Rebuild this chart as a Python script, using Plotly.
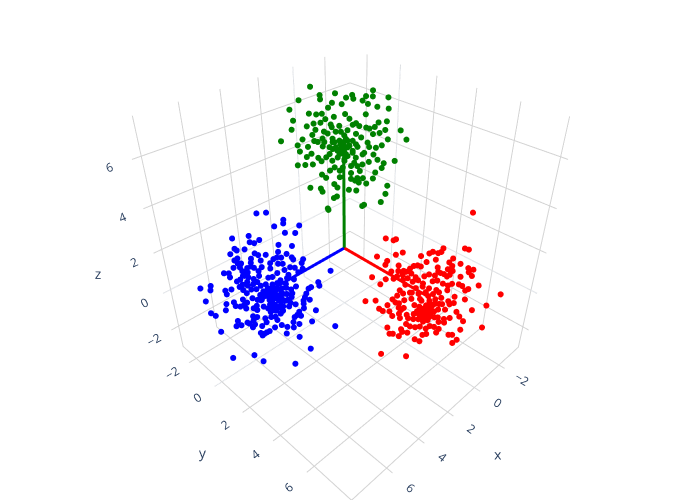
import plotly.graph_objects as go

y_blue=[-.06,.22,.70,.69,.42,1.15,.72,1.02,-.36,-.86,-.06,-.35,-.22,.90,.50,-.83,-.77,-.53,.72,-.24,-.14,-.98,.47,.09,-.08,-.37,.42,.55,.87,.91,.31,1.21,1.16,-.78,-.88,-.69,-.79,-.74,-.94,-.39,-.40,-.52,-.31,-.07,.20,.19,.44,.58,.62,.80,.94,1.18,2.03,1.04,-1.26,-1.11,-1.09,-.68,-.52,-.68,-.78,-.89,-.52,-.18,-.18,.10,.23,.39,.73,.68,.47,.89,1.64,1.67,1.41,1.33,-1.74,-2.08,-1.77,-1.30,-1.10,-1.27,-.83,-.73,-.57,-.39,-.16,.05,.21,.34,.49,.63,.78,.94,-.63,-.47,-.21,-.05,.10,.26,.39,.63,.81,1.25,1.20,1.15,1.35,-.47,-.78,-.66,-.31,-.18,.07,.21,.36,.66,.73,-1.98,-1.33,-1.08,-1.04,-.89,-.71,-.36,-.14,.07,.23,.42,.89,1.15,1.15,-1.38,.13,.26,.47,.07,1.53,.99,.92,1.04,.83,-1.88,-1.74,-.52,-.39,-.13,.07,.21,.26,.78,1.39,-1.04,-.73,-.52,-.94,-1.11,-.57,-.49,-.26,.16,-.03,.39,.57,.78,.97,2.14,-1.65,-.33,-.21,-.13,-.28,.53,.95,2.89,.48,1.15,1.41,2.39,0,.16,0,-.10,.16,.31,.47,.16,.16,.31,.05,.39,.49,.78,-.57,-.36,-.63,-.31,-.73,.21,.36,.63,0,-.26,.52,-.10,.07,.24,-.21,.47,.21,.36,0,.57,-.78,-.36,.68,-.68,-.10,-.47]
x_blue=[5.06,4.78,4.30,4.31,4.58,3.85,4.28,3.98,5.36,5.86,5.06,5.35,5.22,4.10,4.50,5.83,5.77,5.53,4.28,5.24,5.14,5.98,4.53,4.91,5.08,5.37,4.58,4.45,4.13,4.09,4.69,3.79,3.84,5.78,5.88,5.69,5.79,5.74,5.94,5.39,5.40,5.52,5.31,5.07,4.80,4.81,4.56,4.42,4.38,4.20,4.06,3.82,2.97,3.96,6.26,6.11,6.09,5.68,5.52,5.68,5.78,5.89,5.52,5.18,5.18,4.90,4.77,4.61,4.27,4.32,4.53,4.11,3.36,3.33,3.59,3.67,6.74,7.08,6.77,6.30,6.10,6.27,5.83,5.73,5.57,5.39,5.16,4.95,4.79,4.66,4.51,4.37,4.22,4.06,5.63,5.47,5.21,5.05,4.90,4.74,4.61,4.37,4.19,3.75,3.80,3.85,3.65,5.47,5.78,5.66,5.31,5.18,4.93,4.79,4.64,4.34,4.27,6.98,6.33,6.08,6.04,5.89,5.71,5.36,5.14,4.93,4.77,4.58,4.11,3.85,3.85,6.38,4.87,4.74,4.53,4.93,3.47,4.01,4.08,3.96,4.17,6.88,6.74,5.52,5.39,5.13,4.93,4.79,4.74,4.22,3.61,6.04,5.73,5.52,5.94,6.11,5.57,5.49,5.26,4.84,5.03,4.61,4.43,4.22,4.03,2.86,6.65,5.33,5.21,5.13,5.28,4.47,4.05,5.11,7.52,6.85,6.59,5.61,5.0,4.84,5.0,5.10,4.84,4.69,4.53,4.84,4.84,4.69,4.95,4.61,4.51,4.22,5.57,5.36,5.63,5.31,5.73,4.79,4.64,4.37,5.0,5.26,4.48,5.10,4.93,4.76,5.21,4.53,4.79,4.64,5.0,4.43,5.78,5.36,4.32,5.68,5.10,5.47]
z_blue=[3.76,3.80,3.50,3.34,3.20,3.26,2.92,2.92,2.75,2.62,2.57,2.46,2.42,2.32,2.36,2.14,2.06,2.12,1.94,1.94,1.86,1.88,2.03,1.88,1.60,1.68,1.76,1.76,1.78,1.68,1.68,1.70,1.52,1.68,1.58,1.44,1.44,1.24,1.22,1.48,1.30,1.22,1.24,1.28,1.48,1.22,1.46,1.46,1.16,1.30,1.28,1.24,1.16,1.06,.94,.94,.74,1.06,1.0,.84,.64,.54,.76,1.08,.84,.76,.80,1.0,.92,.76,.64,.70,.58,.40,.32,.24,.28,.14,.05,.05,.12,-.14,.26,.10,.34,.42,.34,.22,.26,.18,.22,.26,.18,.34,-.06,.14,-.14,-.02,-.06,-.02,-.14,-.06,-.02,-.02,-.22,-.40,-.34,-.32,-.40,-.56,-.40,-.40,-.40,-.32,-.40,-.36,-.52,-.54,-.66,-.56,-.76,-.78,-.88,-.72,-.76,-.64,-.64,-.64,-.60,-.56,-.80,-1.0,-.94,-.96,-.96,-1.04,-.90,-1.0,-1.18,-1.22,-1.30,-1.18,-1.32,-1.30,-1.34,-1.40,-1.32,-1.30,-1.48,-1.58,-1.52,-1.58,-1.66,-1.54,-1.82,-1.88,-1.92,-1.76,-1.84,-1.90,-2.12,-1.76,-1.86,-1.88,-1.68,-1.76,-2.22,-2.24,-2.28,-2.20,-2.38,-2.24,-2.42,-1.2,-1.8,-1.62,-1.95,-2.05,.05,.10,-.18,-.22,-.22,-.22,-.02,-.56,-.80,-.80,-.80,-1.12,-.72,-.22,.53,.68,.83,.16,.38,.42,.49,.45,.42,.53,-.06,.05,-.16,-.10,-.42,-.35,-.95,-.79,-.86,-.42,-.72,-.95,-.72,-1.71,-1.62,-.86]

x_red=[-1.10,1.33,1.10,1.03,-1.01,-1.13,-.38,-.33,-.24,-.08,.02,1.57,1.01,.81,.26,-.19,-.70,-.60,-.94,1.26,1.31,.91,.08,.34,.45,.56,.24,-.27,-.70,-1.19,-1.35,-1.22,-1.33,-.73,.75,.91,1.12,-.30,-.99,-.66,-.58,-.03,.11,.37,-.37,1.70,1.28,1.04,.94,.75,.61,.45,1.44,-.16,-.30,-.48,-.64,-.76,-.97,-1.08,-1.28,-1.19,-1.58,.67,.13,.34,.83,.72,.90,.51,.24,.02,-.21,-.39,-.64,-2.30,-.89,-1.22,1.89,1.57,1.04,.94,1.19,.45,.13,-.12,-.30,-.48,-.71,-.89,-1.92,-1.49,1.45,1.33,1.12,.83,.67,.75,.34,.18,-.03,-.21,-.42,-.64,-1.01,-1.12,1.02,.81,.56,.34,.13,-.03,-.16,-.33,-.64,-.82,-1.26,.34,.18,-.03,-.16,-.48,-.66,.56,.43,.26,.11,-.21,-.35,-.51,1.16,.71,-1.90,-1.21,-.09,-.44,.67,.50,-.12,0,1.08,.97,.77,-.85,-.97,-1.14,-1.01,.24,.08,2.98,2.22,-.08,.08,-.12,.02,-.21,.24,-.16,-.30,-.44,.29,.13,-.07,.77,.67,.51,-.21,-.48,-.58,-.30,.45,.18,-.07,.02,-.12,.13,-.07,-.30,-.53,-.76,.77,.51,-.44,.67,.83,.18]
y_red=[6.10,3.67,3.90,3.97,6.01,6.13,5.38,5.33,5.24,5.08,4.98,3.43,3.99,4.19,4.74,5.19,5.70,5.60,5.94,3.74,3.69,4.09,4.92,4.66,4.55,4.44,4.76,5.27,5.70,6.19,6.35,6.22,6.33,5.73,4.25,4.09,3.88,5.30,5.99,5.66,5.58,5.03,4.89,4.63,5.37,3.30,3.72,3.96,4.06,4.25,4.39,4.55,3.56,5.16,5.30,5.48,5.64,5.76,5.97,6.08,6.28,6.19,6.58,4.33,4.87,4.66,4.17,4.28,4.10,4.49,4.76,4.98,5.21,5.39,5.64,7.30,5.89,6.22,3.11,3.43,3.96,4.06,3.81,4.55,4.87,5.12,5.30,5.48,5.71,5.89,6.92,6.49,3.55,3.67,3.88,4.17,4.33,4.25,4.66,4.82,5.03,5.21,5.42,5.64,6.01,6.12,3.98,4.19,4.44,4.66,4.87,5.03,5.16,5.33,5.64,5.82,6.26,4.66,4.82,5.03,5.16,5.48,5.66,4.44,4.57,4.74,4.89,5.21,5.35,5.51,3.84,4.29,6.90,6.21,5.09,5.44,4.33,4.50,5.12,5.0,3.92,4.03,4.23,5.85,5.97,6.14,6.01,4.76,4.92,5.02,5.78,5.08,4.92,5.12,4.98,5.21,4.76,5.16,5.30,5.44,4.71,4.87,5.07,4.23,4.33,4.49,5.21,5.48,5.58,5.30,4.55,4.82,5.07,4.98,5.12,4.87,5.07,5.30,5.53,5.76,4.23,4.49,5.44,4.33,4.17,4.82]
z_red=[3.94,2.74,2.66,2.71,2.34,2.29,2.33,2.16,2.10,2.16,2.08,1.89,1.99,2.10,1.95,1.79,1.86,1.67,1.61,1.69,1.50,1.48,1.67,1.50,1.47,1.34,1.45,1.42,1.50,1.41,1.34,1.21,1.03,1.26,1.22,1.21,1.18,1.21,.98,1.07,.98,1.07,.97,.92,1.15,.88,.79,.82,.94,.77,.86,.69,.53,.73,.77,.62,.53,.62,.60,.52,.37,.29,.56,.53,.45,.37,.24,.08,-.04,.13,.08,.17,.08,.17,.29,.13,-.04,-.17,-.36,-.32,-.24,-.40,-.55,-.19,-.28,-.28,-.19,-.11,-.28,-.37,-.47,-.73,-.75,-.87,-.88,-.68,-.68,-.79,-.52,-.60,-.52,-.56,-.73,-.73,-.84,-1.09,-1.13,-1.0,-1.05,-1.0,-.84,-.92,-.79,-1.16,-1.24,-1.18,-1.34,-1.28,-1.28,-1.24,-1.16,-1.41,-1.44,-1.56,-1.69,-1.73,-1.69,-1.65,-1.69,-1.80,-1.78,-1.86,-1.67,-1.82,-1.80,-2.01,-2.01,-2.05,-2.10,-2.16,-2.13,-2.13,-2.26,-2.12,-2.12,-2.40,-2.59,-2.42,-2.53,-1.4,-1.5,-1.09,-1.09,-1.32,-1.41,-.92,-.84,-.43,-.43,-.43,.77,.61,.37,1.02,1.18,1.10,1.02,1.10,1.34,.29,.13,-.19,-.03,-.68,-.76,-1.24,-.84,-.84,-.44,-.44,-1.24,-1.24,-1.16,-.27,-.44,-1.0]

x_green=[.01,-.76,-1.94,.39,-1.33,.70,.69,-.26,-.08,-.67,-.87,-1.33,-.57,.34,.46,.05,-.73,-1.01,-1.35,1.62,.82,1.04,.65,-.67,.29,-.05,1.53,-1.31,.91,.55,-.18,-1.06,1.12,1.59,-1.74,.36,-.28,-.48,-.69,-1.27,-1.10,.86,.60,.08,-.12,-.38,-.90,-1.36,-1.93,1.27,1.94,.91,.65,.34,.13,-.07,-.28,-.54,-.74,-1.18,1.43,1.11,.65,.24,.03,-.18,-.43,-.79,-1.0,1.37,1.16,1.01,.80,.44,.13,-.02,-.28,-.64,-.93,-1.06,-1.60,1.46,1.22,.98,.70,.36,-.02,-.33,-.59,-.79,-1.26,-1.20,.29,.03,-.51,-1.0,.70,.57,.13,-.23,-.43,-.61,-.93,-.23,-.36,-.48,-.72,-1.40,.31,.21,1.09,.75,-.16,-.40,-1.35,.70,.23,.33,-1.21,-.60,-.66,.54,.52,.10,.19,-.12,-.02,.08,.19,-.18,.34,-.02,.49,.13,-.02,.08,-.07,.19,.03,-.12,.29,-.28,.44,.60,-.38,.80,-.02,.24,.70,-.38,-.79,-.95,.96,.34,-.38,-.59,.55,-.23,-.43,.13,.44,-.12,.39]
y_green=[-2.01,-1.24,-.06,-2.39,-.67,-.70,-.69,.26,.08,.67,.87,1.33,.57,-.34,-.46,-.05,.73,1.01,1.35,-1.62,-.82,-1.04,-.65,.67,-.29,.05,-1.53,1.31,-.91,-.55,.18,1.06,-1.12,-1.59,1.74,-.36,.28,.48,.69,1.27,1.10,-.86,-.60,-.08,.12,.38,.90,1.36,1.93,-1.27,-1.94,-.91,-.65,-.34,-.13,.07,.28,.54,.74,1.18,-1.43,-1.11,-.65,-.24,-.03,.18,.43,.79,1.0,-1.37,-1.16,-1.01,-.80,-.44,-.13,.02,.28,.64,.93,1.06,1.60,-1.46,-1.22,-.98,-.70,-.36,.02,.33,.59,.79,1.26,1.20,-.29,-.03,.51,1.0,-.70,-.57,-.13,.23,.43,.61,.93,.23,.36,.48,.72,1.40,-.31,-.21,-1.09,-.75,.16,.40,1.35,-.70,-.23,-.33,1.21,.60,.66,-.54,-.52,-.10,-.19,.12,.02,-.08,-.19,.18,-.34,.02,-.49,-.13,.02,-.08,.07,-.19,-.03,.12,-.29,.28,-.44,-.60,.38,-.80,.02,-.24,-.70,.38,.79,.95,-.96,-.34,.38,.59,-.55,.23,.43,-.13,-.44,.12,-.39]
z_green=[6.94,6.68,6.82,6.37,6.46,7.09,6.92,7.11,7.0,7.07,7.06,7.03,6.89,6.79,6.59,6.74,6.76,6.65,6.58,6.49,6.31,6.34,6.34,6.34,6.22,6.34,6.04,6.06,5.93,6.12,6.15,6.01,5.81,5.66,5.69,5.79,5.90,5.85,5.79,5.70,5.57,5.67,5.60,5.60,5.67,5.52,5.52,5.30,5.30,5.25,5.16,5.19,5.30,5.30,5.22,5.30,5.22,5.37,5.15,5.04,4.99,4.93,4.96,4.93,5.0,5.0,4.96,4.96,4.93,4.72,4.48,4.63,4.45,4.63,4.63,4.70,4.70,4.70,4.63,4.40,4.36,4.10,4.12,4.15,4.30,4.33,4.33,4.25,4.18,4.30,4.25,4.03,4.03,4.03,3.88,3.82,3.69,3.54,3.58,3.78,3.55,3.55,3.54,3.51,3.43,3.34,3.30,3.21,3.25,3.09,3.06,3.03,2.99,2.96,2.82,2.88,2.66,2.58,2.42,2.21,2.27,2.06,1.99,5.07,4.48,4.55,4.40,4.85,4.78,5.0,5.15,5.45,5.52,5.85,4.85,4.78,4.63,4.48,5.15,5.22,5.15,4.78,4.93,5.15,5.07,5.15,5.0,5.6,5.97,5.97,5.75,5.82,5.45,4.85,4.48,4.63,4.48,4.10,4.10,3.88,3.88,4.93,5.9,6.34]

x_axis_line=[0,5]
y_axis_line=[0,5]
z_axis_line=[0,5]
zeros=[0,0]

fig=go.Figure()
for xs,ys,zs,c in [(x_blue,y_blue,z_blue,'blue'),(x_red,y_red,z_red,'red'),(x_green,y_green,z_green,'green')]:
    fig.add_trace(go.Scatter3d(x=xs,y=ys,z=zs,mode='markers',marker=dict(size=3.5,color=c)))
fig.add_trace(go.Scatter3d(x=x_axis_line,y=zeros,z=zeros,mode='lines',line=dict(color='blue',width=6)))
fig.add_trace(go.Scatter3d(x=zeros,y=y_axis_line,z=zeros,mode='lines',line=dict(color='red',width=6)))
fig.add_trace(go.Scatter3d(x=zeros,y=zeros,z=z_axis_line,mode='lines',line=dict(color='green',width=6)))
ax=dict(gridcolor='lightgray')
fig.update_layout(template='plotly_white',width=700,height=500,showlegend=False,margin=dict(l=0,r=0,t=0,b=0),
 scene=dict(xaxis=dict(range=[-3.7,8.4],**ax),yaxis=dict(range=[-3.1,8.3],**ax),zaxis=dict(range=[-3.2,7.5],**ax),aspectmode='cube'))
fig.write_html("out.html",config={'displayModeBar':False},post_script="document.body.style.margin='0';")
